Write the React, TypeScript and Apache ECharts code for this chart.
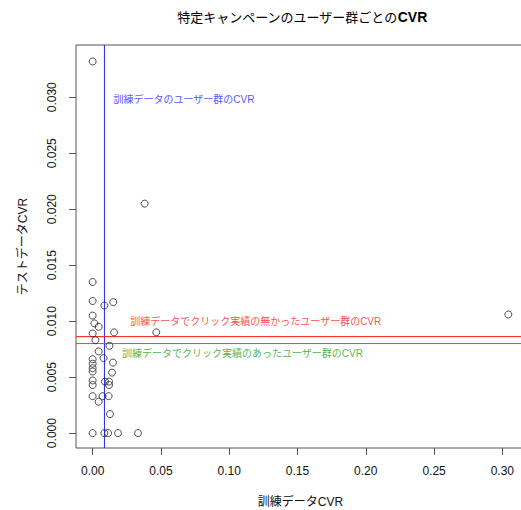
import React, { useEffect, useRef } from "react";
import * as echarts from "echarts";

// Scatter data: training-data CVR (x) vs test-data CVR (y) per user group
const trainCVR = [
  0, 0.0381, 0, 0, 0.0151, 0.0086, 0, 0.0013, 0.0044, 0,
  0.0157, 0.0466, 0.3044, 0.002, 0.0123, 0.0044, 0.008, 0, 0, 0,
  0, 0.0149, 0.0142, 0, 0, 0.009, 0.012, 0.012, 0, 0.0044,
  0.0073, 0.0117, 0.0127, 0, 0.0086, 0.0113, 0.0186, 0.0332,
];
const testCVR = [
  0.0332, 0.0205, 0.0135, 0.0118, 0.0117, 0.0114, 0.0105, 0.0098, 0.0095, 0.0089,
  0.009, 0.009, 0.0106, 0.0083, 0.0078, 0.0073, 0.0067, 0.0066, 0.0062, 0.0058,
  0.0055, 0.0063, 0.0054, 0.0047, 0.0043, 0.0046, 0.0046, 0.0043, 0.0033, 0.0028,
  0.0033, 0.0033, 0.0017, 0, 0, 0, 0, 0,
];

// Axis ranges (R style: data range padded by 4%)
const xRange = [-0.01218, 0.3166];
const yRange = [-0.00133, 0.03467];

// Reference lines
const trainOverallCVR = 0.00865; // vertical (blue)
const noClickGroupCVR = 0.00862; // horizontal (red)
const clickGroupCVR = 0.0080; // horizontal (green)

// Annotation labels and anchor coordinates (data space)
const annotationTexts = [
  "訓練データのユーザー群のCVR",
  "訓練データでクリック実績の無かったユーザー群のCVR",
  "訓練データでクリック実績のあったユーザー群のCVR",
];
const annotationX = [0.0153, 0.0276, 0.0215];
const annotationY = [0.0298, 0.00996, 0.00714];
const annotationColors = ["#2626ff", "#ff1a1a", "#1f9f1f"];

const xTicks = [0, 0.05, 0.1, 0.15, 0.2, 0.25, 0.3];
const yTicks = [0, 0.005, 0.01, 0.015, 0.02, 0.025, 0.03];

const FONT = "'Liberation Sans', 'Noto Sans CJK JP', sans-serif";

export default function App() {
  const ref = useRef<HTMLDivElement>(null);
  useEffect(() => {
    if (!ref.current) return;
    const chart = echarts.init(ref.current, undefined, { renderer: "svg" });
    const points = trainCVR.map((x, i) => [x, testCVR[i]]);
    const refLine = (data: number[][], color: string) => ({
      type: "line",
      data,
      symbol: "none",
      silent: true,
      lineStyle: { color, width: 1 },
      z: 1,
    });
    const annSeries = annotationTexts.map((t, i) => ({
      type: "scatter",
      data: [[annotationX[i], annotationY[i]]],
      symbolSize: 0,
      silent: true,
      label: {
        show: true,
        position: "right",
        distance: 0,
        formatter: t,
        color: annotationColors[i],
        fontSize: 10,
        fontFamily: FONT,
      },
    }));
    chart.setOption({
      animation: false,
      backgroundColor: "#fff",
      title: {
        text: "{a|特定キャンペーンのユーザー群ごとの}{b|CVR}",
        left: 297,
        textAlign: "center",
        top: 5,
        textStyle: {
          rich: {
            a: { fontSize: 13, fontFamily: FONT, color: "#000", fontWeight: "normal" },
            b: { fontSize: 14, fontFamily: FONT, color: "#000", fontWeight: "bold" },
          },
        },
      },
      grid: {
        left: 76,
        right: -4,
        top: 45,
        bottom: 62,
        outerBoundsMode: "none",
        containLabel: false,
        show: true,
        borderColor: "#555",
        borderWidth: 1,
        backgroundColor: "transparent",
      },
      xAxis: {
        type: "value",
        min: xRange[0],
        max: xRange[1],
        name: "訓練データCVR",
        nameLocation: "middle",
        nameGap: 48,
        nameTextStyle: { fontSize: 12, fontFamily: FONT, color: "#111" },
        axisLine: { show: false, onZero: false },
        splitLine: { show: false },
        axisTick: { show: true, customValues: xTicks, length: 7, lineStyle: { color: "#555" } },
        axisLabel: {
          customValues: xTicks,
          formatter: (v: number) => v.toFixed(2),
          margin: 17,
          fontSize: 12,
          fontFamily: FONT,
          color: "#111",
        },
      },
      yAxis: {
        type: "value",
        min: yRange[0],
        max: yRange[1],
        name: "テストデータCVR",
        nameLocation: "middle",
        nameGap: 47,
        nameRotate: 90,
        nameTextStyle: { fontSize: 12, fontFamily: FONT, color: "#111" },
        axisLine: { show: false, onZero: false },
        splitLine: { show: false },
        axisTick: { show: true, customValues: yTicks, length: 7, lineStyle: { color: "#555" } },
        axisLabel: {
          customValues: yTicks,
          rotate: 90,
          formatter: (v: number) => v.toFixed(3),
          margin: 18,
          fontSize: 12,
          fontFamily: FONT,
          color: "#111",
        },
      },
      series: [
        refLine([[trainOverallCVR, yRange[0]], [trainOverallCVR, yRange[1]]], "#2626ff"),
        refLine([[xRange[0], noClickGroupCVR], [xRange[1], noClickGroupCVR]], "#ff1a1a"),
        refLine([[xRange[0], clickGroupCVR], [xRange[1], clickGroupCVR]], "#22b022"),
        {
          type: "scatter",
          data: points,
          symbol: "circle",
          symbolSize: 7,
          itemStyle: { color: "rgba(0,0,0,0)", borderColor: "#222", borderWidth: 1 },
          z: 3,
        },
        ...annSeries,
      ],
    });
    return () => chart.dispose();
  }, []);
  return (
    <div
      ref={ref}
      style={{ position: "absolute", left: 0, top: 0, width: 521, height: 510 }}
    />
  );
}
